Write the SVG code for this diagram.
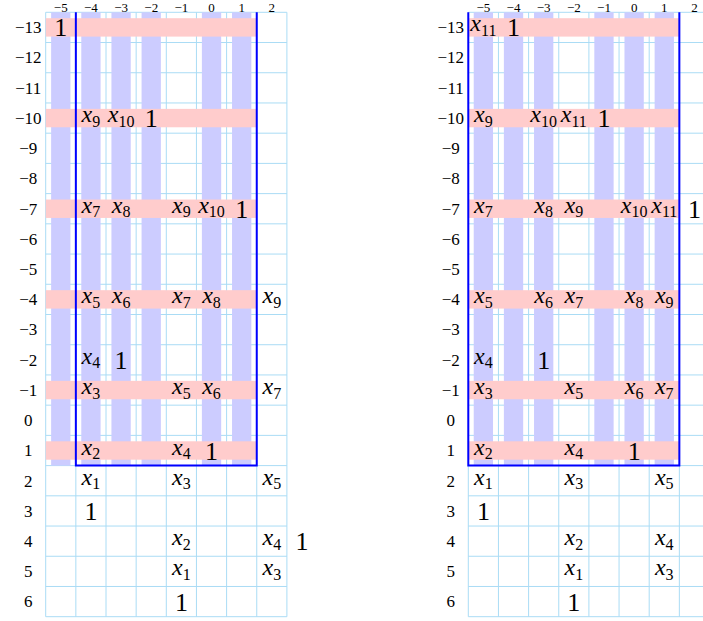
<svg xmlns="http://www.w3.org/2000/svg" xmlns:xlink="http://www.w3.org/1999/xlink" width="703" height="621" viewBox="0 0 703 621">
<style>
.grid{fill:none;stroke:#aadcf5;stroke-width:1}
.lav{fill:#ccccff}
.pink{fill:#ffcccc}
.blue{fill:none;stroke:#0000ff;stroke-width:2}
text{font-family:"Liberation Serif","Times New Roman",serif;fill:#000}
.v{font-size:24px;font-style:italic;text-anchor:middle}
.s{font-size:16px;font-style:normal}
.one{font-size:26px;text-anchor:middle}
.lab{font-size:17px;text-anchor:middle}
.hdr{font-size:13px;text-anchor:middle}
</style>
<defs>
<path id="gridlines" class="grid" d="M45.7 12.3V616.7M75.85 12.3V616.7M106 12.3V616.7M136.15 12.3V616.7M166.3 12.3V616.7M196.45 12.3V616.7M226.6 12.3V616.7M256.75 12.3V616.7M286.9 12.3V616.7
M45.7 12.3H286.9M45.7 42.52H286.9M45.7 72.74H286.9M45.7 102.96H286.9M45.7 133.18H286.9M45.7 163.4H286.9M45.7 193.62H286.9M45.7 223.84H286.9M45.7 254.06H286.9M45.7 284.28H286.9M45.7 314.5H286.9M45.7 344.72H286.9M45.7 374.94H286.9M45.7 405.16H286.9M45.7 435.38H286.9M45.7 465.6H286.9M45.7 495.82H286.9M45.7 526.04H286.9M45.7 556.26H286.9M45.7 586.48H286.9M45.7 616.7H286.9"/>
</defs>

<g id="left-diagram">
<g id="left-grid"><use xlink:href="#gridlines"/></g>
<g id="left-columns">
<rect class="lav" x="51.13" y="12.3" width="19.3" height="453.3"/>
<rect class="lav" x="81.28" y="12.3" width="19.3" height="453.3"/>
<rect class="lav" x="111.43" y="12.3" width="19.3" height="453.3"/>
<rect class="lav" x="141.58" y="12.3" width="19.3" height="453.3"/>
<rect class="lav" x="201.88" y="12.3" width="19.3" height="453.3"/>
<rect class="lav" x="232.03" y="12.3" width="19.3" height="453.3"/>
</g>
<g id="left-rows">
<rect class="pink" x="45.7" y="18.21" width="211.05" height="18.4"/>
<rect class="pink" x="45.7" y="108.87" width="211.05" height="18.4"/>
<rect class="pink" x="45.7" y="199.53" width="211.05" height="18.4"/>
<rect class="pink" x="45.7" y="290.19" width="211.05" height="18.4"/>
<rect class="pink" x="45.7" y="380.85" width="211.05" height="18.4"/>
<rect class="pink" x="45.7" y="441.29" width="211.05" height="18.4"/>
</g>
<path id="left-frame" class="blue" d="M75.85 12.3V465.6H256.75V12.3"/>
<g id="left-headers">
<text class="hdr" x="60.78" y="11.8">−5</text>
<text class="hdr" x="90.93" y="11.8">−4</text>
<text class="hdr" x="121.08" y="11.8">−3</text>
<text class="hdr" x="151.23" y="11.8">−2</text>
<text class="hdr" x="181.38" y="11.8">−1</text>
<text class="hdr" x="211.53" y="11.8">0</text>
<text class="hdr" x="241.68" y="11.8">1</text>
<text class="hdr" x="271.83" y="11.8">2</text>
</g>
<g id="left-rowlabels">
<text class="lab" x="28.2" y="33.2">−13</text>
<text class="lab" x="28.2" y="63.4">−12</text>
<text class="lab" x="28.2" y="93.7">−11</text>
<text class="lab" x="28.2" y="123.9">−10</text>
<text class="lab" x="28.2" y="154.1">−9</text>
<text class="lab" x="28.2" y="184.3">−8</text>
<text class="lab" x="28.2" y="214.5">−7</text>
<text class="lab" x="28.2" y="244.8">−6</text>
<text class="lab" x="28.2" y="275">−5</text>
<text class="lab" x="28.2" y="305.2">−4</text>
<text class="lab" x="28.2" y="335.4">−3</text>
<text class="lab" x="28.2" y="365.6">−2</text>
<text class="lab" x="28.2" y="395.9">−1</text>
<text class="lab" x="28.2" y="426.1">0</text>
<text class="lab" x="28.2" y="456.3">1</text>
<text class="lab" x="28.2" y="486.5">2</text>
<text class="lab" x="28.2" y="516.7">3</text>
<text class="lab" x="28.2" y="547">4</text>
<text class="lab" x="28.2" y="577.2">5</text>
<text class="lab" x="28.2" y="607.4">6</text>
</g>
<g id="left-entries">
<text class="one" x="60.78" y="36.4">1</text>
<text class="v" x="90.93" y="122.1">x<tspan class="s" dy="4.5">9</tspan></text>
<text class="v" x="121.08" y="122.1">x<tspan class="s" dy="4.5">10</tspan></text>
<text class="one" x="151.23" y="127.1">1</text>
<text class="v" x="90.93" y="212.7">x<tspan class="s" dy="4.5">7</tspan></text>
<text class="v" x="121.08" y="212.7">x<tspan class="s" dy="4.5">8</tspan></text>
<text class="v" x="181.38" y="212.7">x<tspan class="s" dy="4.5">9</tspan></text>
<text class="v" x="211.53" y="212.7">x<tspan class="s" dy="4.5">10</tspan></text>
<text class="one" x="241.68" y="217.7">1</text>
<text class="v" x="90.93" y="303.4">x<tspan class="s" dy="4.5">5</tspan></text>
<text class="v" x="121.08" y="303.4">x<tspan class="s" dy="4.5">6</tspan></text>
<text class="v" x="181.38" y="303.4">x<tspan class="s" dy="4.5">7</tspan></text>
<text class="v" x="211.53" y="303.4">x<tspan class="s" dy="4.5">8</tspan></text>
<text class="v" x="271.83" y="303.4">x<tspan class="s" dy="4.5">9</tspan></text>
<text class="v" x="90.93" y="363.8">x<tspan class="s" dy="4.5">4</tspan></text>
<text class="one" x="121.08" y="368.8">1</text>
<text class="v" x="90.93" y="394.1">x<tspan class="s" dy="4.5">3</tspan></text>
<text class="v" x="181.38" y="394.1">x<tspan class="s" dy="4.5">5</tspan></text>
<text class="v" x="211.53" y="394.1">x<tspan class="s" dy="4.5">6</tspan></text>
<text class="v" x="271.83" y="394.1">x<tspan class="s" dy="4.5">7</tspan></text>
<text class="v" x="90.93" y="454.5">x<tspan class="s" dy="4.5">2</tspan></text>
<text class="v" x="181.38" y="454.5">x<tspan class="s" dy="4.5">4</tspan></text>
<text class="one" x="211.53" y="459.5">1</text>
<text class="v" x="90.93" y="484.7">x<tspan class="s" dy="4.5">1</tspan></text>
<text class="v" x="181.38" y="484.7">x<tspan class="s" dy="4.5">3</tspan></text>
<text class="v" x="271.83" y="484.7">x<tspan class="s" dy="4.5">5</tspan></text>
<text class="one" x="90.93" y="519.9">1</text>
<text class="v" x="181.38" y="545.2">x<tspan class="s" dy="4.5">2</tspan></text>
<text class="v" x="271.83" y="545.2">x<tspan class="s" dy="4.5">4</tspan></text>
<text class="one" x="301.98" y="550.2">1</text>
<text class="v" x="181.38" y="575.4">x<tspan class="s" dy="4.5">1</tspan></text>
<text class="v" x="271.83" y="575.4">x<tspan class="s" dy="4.5">3</tspan></text>
<text class="one" x="181.38" y="610.6">1</text>
</g>
</g>

<g id="right-diagram">
<g id="right-grid"><use xlink:href="#gridlines" transform="translate(422.6 0)"/></g>
<g id="right-columns">
<rect class="lav" x="473.73" y="12.3" width="19.3" height="453.3"/>
<rect class="lav" x="503.88" y="12.3" width="19.3" height="453.3"/>
<rect class="lav" x="534.03" y="12.3" width="19.3" height="453.3"/>
<rect class="lav" x="594.33" y="12.3" width="19.3" height="453.3"/>
<rect class="lav" x="624.48" y="12.3" width="19.3" height="453.3"/>
<rect class="lav" x="654.63" y="12.3" width="19.3" height="453.3"/>
</g>
<g id="right-rows">
<rect class="pink" x="468.3" y="18.21" width="211.05" height="18.4"/>
<rect class="pink" x="468.3" y="108.87" width="211.05" height="18.4"/>
<rect class="pink" x="468.3" y="199.53" width="211.05" height="18.4"/>
<rect class="pink" x="468.3" y="290.19" width="211.05" height="18.4"/>
<rect class="pink" x="468.3" y="380.85" width="211.05" height="18.4"/>
<rect class="pink" x="468.3" y="441.29" width="211.05" height="18.4"/>
</g>
<path id="right-frame" class="blue" d="M468.3 12.3V465.6H679.35V12.3"/>
<g id="right-headers">
<text class="hdr" x="483.38" y="11.8">−5</text>
<text class="hdr" x="513.53" y="11.8">−4</text>
<text class="hdr" x="543.68" y="11.8">−3</text>
<text class="hdr" x="573.83" y="11.8">−2</text>
<text class="hdr" x="603.98" y="11.8">−1</text>
<text class="hdr" x="634.13" y="11.8">0</text>
<text class="hdr" x="664.28" y="11.8">1</text>
<text class="hdr" x="694.43" y="11.8">2</text>
</g>
<g id="right-rowlabels">
<text class="lab" x="450.8" y="33.2">−13</text>
<text class="lab" x="450.8" y="63.4">−12</text>
<text class="lab" x="450.8" y="93.7">−11</text>
<text class="lab" x="450.8" y="123.9">−10</text>
<text class="lab" x="450.8" y="154.1">−9</text>
<text class="lab" x="450.8" y="184.3">−8</text>
<text class="lab" x="450.8" y="214.5">−7</text>
<text class="lab" x="450.8" y="244.8">−6</text>
<text class="lab" x="450.8" y="275">−5</text>
<text class="lab" x="450.8" y="305.2">−4</text>
<text class="lab" x="450.8" y="335.4">−3</text>
<text class="lab" x="450.8" y="365.6">−2</text>
<text class="lab" x="450.8" y="395.9">−1</text>
<text class="lab" x="450.8" y="426.1">0</text>
<text class="lab" x="450.8" y="456.3">1</text>
<text class="lab" x="450.8" y="486.5">2</text>
<text class="lab" x="450.8" y="516.7">3</text>
<text class="lab" x="450.8" y="547">4</text>
<text class="lab" x="450.8" y="577.2">5</text>
<text class="lab" x="450.8" y="607.4">6</text>
</g>
<g id="right-entries">
<text class="v" x="483.38" y="31.4">x<tspan class="s" dy="4.5">11</tspan></text>
<text class="one" x="513.53" y="36.4">1</text>
<text class="v" x="483.38" y="122.1">x<tspan class="s" dy="4.5">9</tspan></text>
<text class="v" x="543.68" y="122.1">x<tspan class="s" dy="4.5">10</tspan></text>
<text class="v" x="573.83" y="122.1">x<tspan class="s" dy="4.5">11</tspan></text>
<text class="one" x="603.98" y="127.1">1</text>
<text class="v" x="483.38" y="212.7">x<tspan class="s" dy="4.5">7</tspan></text>
<text class="v" x="543.68" y="212.7">x<tspan class="s" dy="4.5">8</tspan></text>
<text class="v" x="573.83" y="212.7">x<tspan class="s" dy="4.5">9</tspan></text>
<text class="v" x="634.13" y="212.7">x<tspan class="s" dy="4.5">10</tspan></text>
<text class="v" x="664.28" y="212.7">x<tspan class="s" dy="4.5">11</tspan></text>
<text class="one" x="694.43" y="217.7">1</text>
<text class="v" x="483.38" y="303.4">x<tspan class="s" dy="4.5">5</tspan></text>
<text class="v" x="543.68" y="303.4">x<tspan class="s" dy="4.5">6</tspan></text>
<text class="v" x="573.83" y="303.4">x<tspan class="s" dy="4.5">7</tspan></text>
<text class="v" x="634.13" y="303.4">x<tspan class="s" dy="4.5">8</tspan></text>
<text class="v" x="664.28" y="303.4">x<tspan class="s" dy="4.5">9</tspan></text>
<text class="v" x="483.38" y="363.8">x<tspan class="s" dy="4.5">4</tspan></text>
<text class="one" x="543.68" y="368.8">1</text>
<text class="v" x="483.38" y="394.1">x<tspan class="s" dy="4.5">3</tspan></text>
<text class="v" x="573.83" y="394.1">x<tspan class="s" dy="4.5">5</tspan></text>
<text class="v" x="634.13" y="394.1">x<tspan class="s" dy="4.5">6</tspan></text>
<text class="v" x="664.28" y="394.1">x<tspan class="s" dy="4.5">7</tspan></text>
<text class="v" x="483.38" y="454.5">x<tspan class="s" dy="4.5">2</tspan></text>
<text class="v" x="573.83" y="454.5">x<tspan class="s" dy="4.5">4</tspan></text>
<text class="one" x="634.13" y="459.5">1</text>
<text class="v" x="483.38" y="484.7">x<tspan class="s" dy="4.5">1</tspan></text>
<text class="v" x="573.83" y="484.7">x<tspan class="s" dy="4.5">3</tspan></text>
<text class="v" x="664.28" y="484.7">x<tspan class="s" dy="4.5">5</tspan></text>
<text class="one" x="483.38" y="519.9">1</text>
<text class="v" x="573.83" y="545.2">x<tspan class="s" dy="4.5">2</tspan></text>
<text class="v" x="664.28" y="545.2">x<tspan class="s" dy="4.5">4</tspan></text>
<text class="v" x="573.83" y="575.4">x<tspan class="s" dy="4.5">1</tspan></text>
<text class="v" x="664.28" y="575.4">x<tspan class="s" dy="4.5">3</tspan></text>
<text class="one" x="573.83" y="610.6">1</text>
</g>
</g>
</svg>
